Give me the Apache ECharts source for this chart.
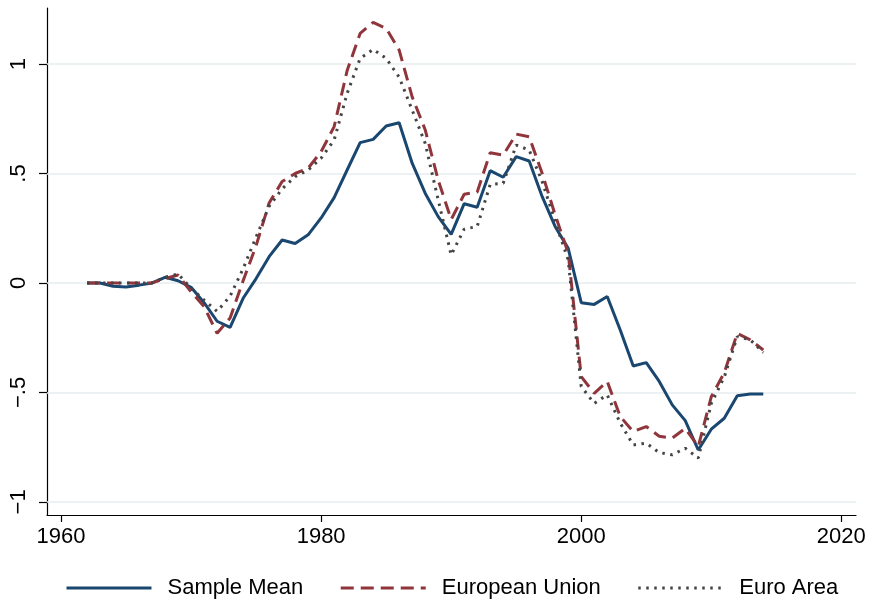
<!DOCTYPE html>
<html>
<head>
<meta charset="utf-8">
<script src="https://cdn.jsdelivr.net/npm/echarts@6/dist/echarts.min.js"></script>
<style>
html,body{margin:0;padding:0;background:#fff;}
#chart{width:869px;height:600px;}
</style>
</head>
<body>
<div id="chart"></div>
<script>
const years = [];
for (let y = 1962; y <= 2014; y++) years.push(y);

const sampleMean = [
  0, 0, -0.015, -0.018, -0.01, 0, 0.026, 0.01, -0.02, -0.09,
  -0.175, -0.203, -0.07, 0.02, 0.12, 0.196, 0.18, 0.22, 0.297, 0.39,
  0.516, 0.641, 0.656, 0.717, 0.732, 0.547, 0.41, 0.303, 0.222, 0.362,
  0.346, 0.513, 0.483, 0.577, 0.557, 0.394, 0.257, 0.158, -0.09, -0.098,
  -0.062, -0.215, -0.379, -0.364, -0.45, -0.557, -0.629, -0.763, -0.668, -0.618,
  -0.515, -0.507, -0.507
];
const europeanUnion = [
  0, 0, 0, 0, 0, 0, 0.02, 0.036, -0.04, -0.108,
  -0.23, -0.16, 0.01, 0.17, 0.365, 0.463, 0.5, 0.524, 0.6, 0.714,
  0.97, 1.14, 1.19, 1.163, 1.064, 0.85, 0.7, 0.47, 0.29, 0.405,
  0.415, 0.595, 0.584, 0.68, 0.668, 0.5, 0.31, 0.137, -0.428, -0.504,
  -0.45, -0.61, -0.679, -0.656, -0.7, -0.709, -0.664, -0.747, -0.52, -0.41,
  -0.23, -0.26, -0.306
];
const euroArea = [
  0, 0, 0, 0, 0, 0, 0.026, 0.041, -0.024, -0.078,
  -0.13, -0.06, 0.065, 0.21, 0.35, 0.43, 0.485, 0.516, 0.57, 0.653,
  0.866, 1.026, 1.067, 1.026, 0.94, 0.79, 0.638, 0.38, 0.128, 0.246,
  0.258, 0.45, 0.455, 0.63, 0.607, 0.463, 0.28, 0.105, -0.473, -0.55,
  -0.511, -0.64, -0.74, -0.732, -0.775, -0.785, -0.755, -0.8, -0.55, -0.43,
  -0.245, -0.26, -0.318
];

const xTicks = [1960, 1980, 2000, 2020];
const yTicks = [-1, -0.5, 0, 0.5, 1];
const yTickLabels = ['\u22121', '\u2212.5', '0', '.5', '1'];
const seriesNames = ['Sample Mean', 'European Union', 'Euro Area'];

const FONT = '"Liberation Sans", Arial, Helvetica, sans-serif';
const pairs = arr => years.map((y, i) => [y, arr[i]]);

const chart = echarts.init(document.getElementById('chart'), null, {renderer: 'canvas'});
chart.setOption({
  animation: false,
  backgroundColor: '#fff',
  grid: {left: 47, right: 13, top: 8, bottom: 85, containLabel: false},
  legend: {
    left: 60, top: 572, orient: 'horizontal',
    itemWidth: 85, itemHeight: 14, itemGap: 36,
    itemStyle: {opacity: 0},
    lineStyle: {width: 3},
    textStyle: {fontFamily: FONT, fontSize: 22, color: '#000'},
    formatter: name => '\u2002' + name,
    data: seriesNames
  },
  xAxis: {
    type: 'value', min: 1958.92, max: 2021.13,
    axisLine: {show: true, onZero: false, lineStyle: {color: '#000', width: 1.2}},
    axisTick: {show: true, length: 7, lineStyle: {color: '#000', width: 1.2}, customValues: xTicks},
    axisLabel: {fontFamily: FONT, fontSize: 22, color: '#000', margin: 11, customValues: xTicks,
      formatter: v => String(v)},
    splitLine: {show: false}
  },
  yAxis: {
    type: 'value', min: -1.06, max: 1.256,
    axisLine: {show: true, onZero: false, lineStyle: {color: '#000', width: 1.2}},
    axisTick: {show: true, length: 8, lineStyle: {color: '#000', width: 1.2}, customValues: yTicks},
    axisLabel: {fontFamily: FONT, fontSize: 22, color: '#000', margin: 17, rotate: 90, customValues: yTicks,
      formatter: v => {
        const i = yTicks.findIndex(t => Math.abs(t - v) < 1e-6);
        return i >= 0 ? yTickLabels[i] : '';
      }},
    splitLine: {show: false}
  },
  series: [
    {
      name: seriesNames[0], type: 'line', data: pairs(sampleMean),
      showSymbol: false, symbol: 'none', z: 3,
      lineStyle: {color: '#1a476f', width: 3},
      itemStyle: {color: '#1a476f'},
      markLine: {
        silent: true, symbol: 'none', z: 1,
        label: {show: false},
        lineStyle: {color: '#e6eef1', width: 1.5, type: 'solid'},
        emphasis: {disabled: true},
        data: yTicks.map(t => ({yAxis: t}))
      }
    },
    {
      name: seriesNames[1], type: 'line', data: pairs(europeanUnion),
      showSymbol: false, symbol: 'none', z: 4,
      lineStyle: {color: '#90353b', width: 3, type: [13, 7]},
      itemStyle: {color: '#90353b'}
    },
    {
      name: seriesNames[2], type: 'line', data: pairs(euroArea),
      showSymbol: false, symbol: 'none', z: 5,
      lineStyle: {color: '#444444', width: 3, type: [2.5, 5.5]},
      itemStyle: {color: '#444444'}
    }
  ]
});
</script>
</body>
</html>
